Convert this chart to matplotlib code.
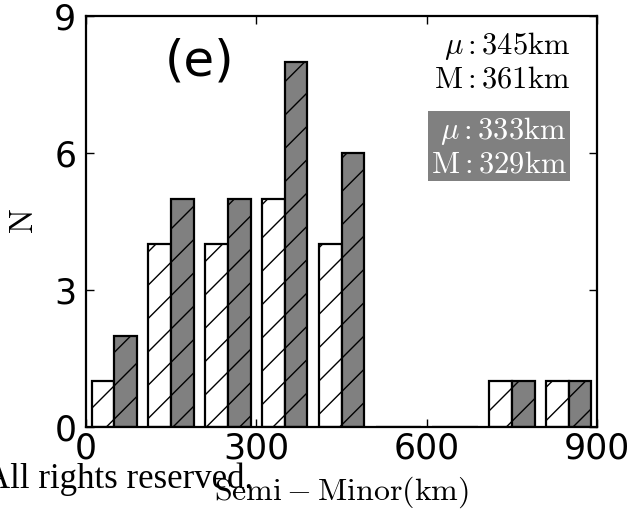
import matplotlib
matplotlib.use('Agg')
import matplotlib.pyplot as plt
import numpy as np

plt.rcParams['mathtext.fontset'] = 'cm'
plt.rcParams['hatch.linewidth'] = 1.0

# ---- data ----
bin_edges = [0, 100, 200, 300, 400, 500, 600, 700, 800, 900]
counts_open = [1, 4, 4, 5, 4, 0, 0, 1, 1]      # white hatched bars
counts_filled = [2, 5, 5, 8, 6, 0, 0, 1, 1]    # grey hatched bars
x_ticks = [0, 300, 600, 900]
y_ticks = [0, 3, 6, 9]
stats_open = ["$\\mu:345\\mathrm{km}$", "$\\mathrm{M:361km}$"]
stats_filled = ["$\\mu:333\\mathrm{km}$", "$\\mathrm{M:329km}$"]
panel_label = "(e)"
xlabel = "$\\mathrm{Semi-Minor(km)}$"
ylabel = "$\\mathrm{N}$"
footer = "All rights reserved."

fig = plt.figure(figsize=(6.35, 5.19), dpi=100)
ax = fig.add_axes([0.1354, 0.1773, 0.8048, 0.7919])

edges = np.array(bin_edges, dtype=float)
centers = (edges[:-1] + edges[1:]) / 2
ax.hist([centers, centers], bins=edges, weights=[counts_open, counts_filled],
        color=['white', '#808080'], edgecolor='black', linewidth=1.6,
        hatch='/', rwidth=0.8)

ax.set_xlim(0, 900)
ax.set_ylim(0, 9)
ax.set_xticks(x_ticks)
ax.set_yticks(y_ticks)
ax.tick_params(direction='in', top=True, right=True, length=6, width=1,
               labelsize=25)
ax.tick_params(axis='x', pad=3)
ax.tick_params(axis='y', pad=7)
for s in ax.spines.values():
    s.set_linewidth(1.6)

ax.set_xlabel(xlabel, fontsize=23, labelpad=7)
ax.set_ylabel(ylabel, fontsize=24, labelpad=10)

ax.text(0.222, 0.89, panel_label, transform=ax.transAxes, fontsize=36,
        ha='center', va='center')
ax.text(0.947, 0.966, "\n".join(stats_open), transform=ax.transAxes,
        fontsize=22, ha='right', va='top', multialignment='right',
        linespacing=1.1)
ax.text(0.941, 0.758, "\n".join(stats_filled), transform=ax.transAxes,
        fontsize=22, ha='right', va='top', multialignment='right',
        linespacing=1.1, color='white',
        bbox=dict(facecolor='#808080', edgecolor='none', pad=2))

fig.text(253 / 635, 1 - 488 / 519, footer, family='Liberation Serif',
         fontsize=25, ha='right', va='baseline')

fig.savefig('out.png', dpi=100)
